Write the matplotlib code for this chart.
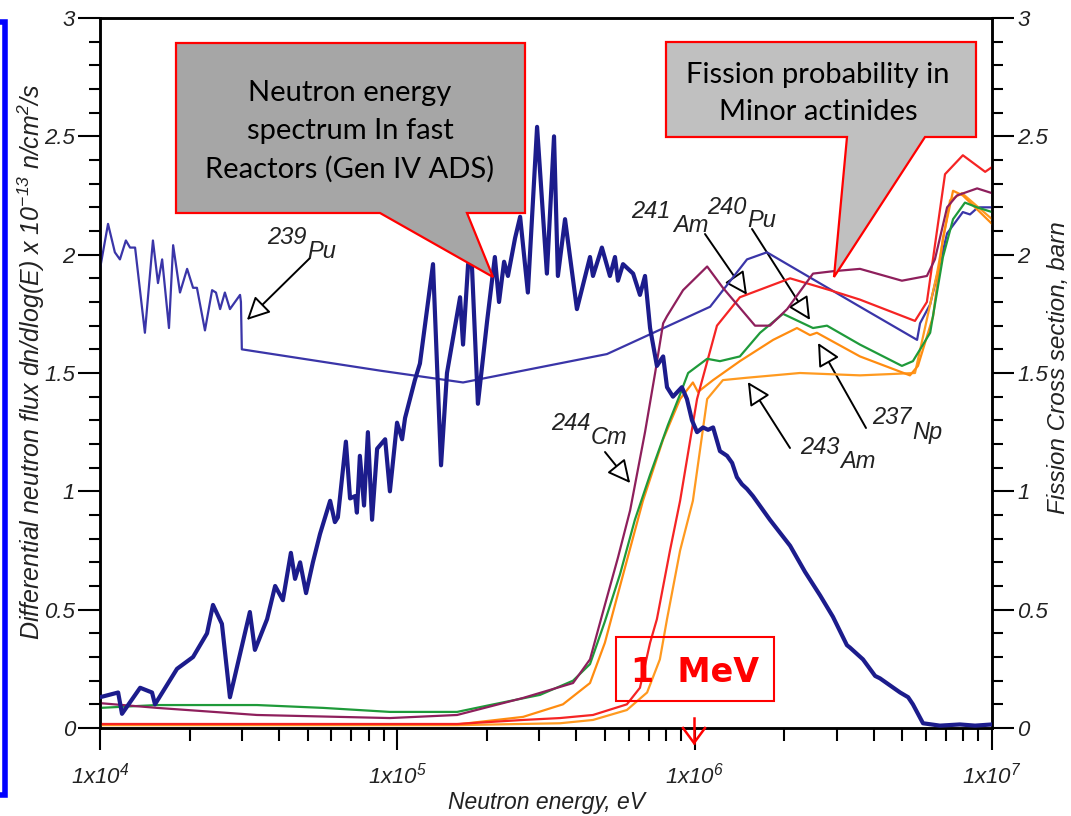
import numpy as np
import matplotlib
matplotlib.use("Agg")
import matplotlib.pyplot as plt
from matplotlib.patches import Polygon, Rectangle
from matplotlib.lines import Line2D
from matplotlib.ticker import FixedLocator, FixedFormatter, NullFormatter

W, H = 1071, 816

plt.rcParams["font.family"] = ["Liberation Sans", "DejaVu Sans"]
plt.rcParams["mathtext.fontset"] = "custom"
plt.rcParams["mathtext.rm"] = "Liberation Sans:italic"
plt.rcParams["mathtext.it"] = "Liberation Sans:italic"
plt.rcParams["mathtext.default"] = "it"

# ---- neutron spectrum (log10 of energy in eV, flux in 1e-13 n/cm2/s) ----
spec_logE = [4.000, 4.061, 4.074, 4.135, 4.175, 4.185, 4.259, 4.313, 4.360, 4.380,
             4.410, 4.437, 4.504, 4.521, 4.562, 4.589, 4.615, 4.642, 4.656, 4.673,
             4.693, 4.716, 4.740, 4.774, 4.790, 4.800, 4.827, 4.841, 4.858, 4.864,
             4.874, 4.888, 4.901, 4.915, 4.932, 4.959, 4.975, 4.999, 5.016, 5.026,
             5.059, 5.076, 5.120, 5.147, 5.167, 5.211, 5.221, 5.238, 5.251, 5.271,
             5.302, 5.328, 5.342, 5.359, 5.372, 5.396, 5.413, 5.439, 5.470, 5.503,
             5.527, 5.540, 5.564, 5.604, 5.648, 5.658, 5.688, 5.715, 5.732, 5.742,
             5.759, 5.793, 5.816, 5.833, 5.850, 5.873, 5.894, 5.907, 5.927, 5.957,
             5.974, 5.991, 6.008, 6.028, 6.045, 6.062, 6.085, 6.109, 6.126, 6.142,
             6.159, 6.176, 6.196, 6.253, 6.321, 6.371, 6.422, 6.465, 6.512, 6.522,
             6.566, 6.607, 6.623, 6.691, 6.718, 6.734, 6.768, 6.825, 6.892, 6.943, 7.000]
spec_flux = [0.13, 0.15, 0.06, 0.17, 0.15, 0.10, 0.25, 0.30, 0.40, 0.52,
             0.44, 0.13, 0.49, 0.33, 0.46, 0.60, 0.54, 0.74, 0.63, 0.70,
             0.57, 0.70, 0.82, 0.96, 0.87, 0.89, 1.21, 0.97, 0.98, 0.91,
             1.15, 0.94, 1.25, 0.88, 1.18, 1.22, 1.00, 1.29, 1.22, 1.31,
             1.47, 1.54, 1.96, 1.11, 1.50, 1.82, 1.62, 1.96, 1.95, 1.37,
             1.72, 1.99, 1.80, 1.97, 1.91, 2.07, 2.16, 1.84, 2.54, 1.92,
             2.50, 1.91, 2.15, 1.77, 1.99, 1.91, 2.03, 1.91, 1.99, 1.89,
             1.96, 1.92, 1.83, 1.91, 1.69, 1.53, 1.57, 1.44, 1.40, 1.44,
             1.39, 1.30, 1.25, 1.27, 1.26, 1.27, 1.17, 1.15, 1.12, 1.06,
             1.03, 1.01, 0.98, 0.88, 0.77, 0.66, 0.56, 0.47, 0.35, 0.34,
             0.29, 0.22, 0.21, 0.15, 0.13, 0.10, 0.02, 0.01, 0.015, 0.01, 0.015]

# ---- fission cross sections (log10 of energy in eV, barn) ----
pu239_logE = [4.000, 4.027, 4.050, 4.067, 4.087, 4.101, 4.118, 4.151, 4.178, 4.195,
              4.209, 4.232, 4.246, 4.269, 4.293, 4.313, 4.326, 4.353, 4.377, 4.390,
              4.404, 4.420, 4.437, 4.471, 4.474, 4.477, 4.942, 5.221, 5.705, 6.052,
              6.176, 6.243, 6.556, 6.748, 6.758, 6.792, 6.849, 6.902, 6.926, 6.953, 7.000]
pu239_xs = [1.94, 2.13, 2.01, 1.98, 2.06, 2.03, 2.03, 1.67, 2.06, 1.88,
            1.98, 1.69, 2.04, 1.84, 1.94, 1.86, 1.86, 1.68, 1.85, 1.84,
            1.77, 1.84, 1.77, 1.83, 1.80, 1.60, 1.51, 1.46, 1.58, 1.78,
            1.98, 2.01, 1.78, 1.64, 1.71, 1.79, 2.09, 2.18, 2.17, 2.20, 2.20]

cm244_logE = [4.000, 4.192, 4.528, 4.975, 5.201, 5.423, 5.591, 5.648, 5.698, 5.742,
              5.783, 5.833, 5.867, 5.894, 5.907, 5.961, 6.042, 6.095, 6.203, 6.253,
              6.311, 6.398, 6.465, 6.556, 6.697, 6.781, 6.808, 6.849, 6.882, 6.950, 7.000]
cm244_xs = [0.105, 0.085, 0.055, 0.042, 0.055, 0.127, 0.19, 0.29, 0.52, 0.72,
            0.92, 1.25, 1.50, 1.71, 1.74, 1.85, 1.95, 1.86, 1.70, 1.70,
            1.77, 1.92, 1.93, 1.94, 1.89, 1.91, 1.98, 2.20, 2.25, 2.28, 2.26]

pu240_logE = [4.000, 4.192, 4.528, 4.750, 4.975, 5.201, 5.312, 5.480, 5.591, 5.648,
              5.698, 5.749, 5.799, 5.850, 5.910, 5.951, 5.978, 6.042, 6.085, 6.152,
              6.220, 6.297, 6.398, 6.445, 6.556, 6.697, 6.734, 6.792, 6.835, 6.869,
              6.909, 6.950, 7.000]
pu240_xs = [0.085, 0.097, 0.097, 0.085, 0.068, 0.068, 0.097, 0.14, 0.20, 0.27,
            0.45, 0.65, 0.88, 1.07, 1.28, 1.41, 1.50, 1.56, 1.55, 1.57,
            1.67, 1.75, 1.69, 1.70, 1.62, 1.53, 1.55, 1.67, 1.99, 2.15,
            2.22, 2.20, 2.18]

np237_logE = [4.000, 5.201, 5.423, 5.557, 5.648, 5.698, 5.749, 5.826, 5.894, 5.951,
              5.994, 6.011, 6.062, 6.152, 6.264, 6.344, 6.388, 6.411, 6.556, 6.724,
              6.751, 6.802, 6.835, 6.869, 6.902, 7.000]
np237_xs = [0.015, 0.015, 0.047, 0.10, 0.19, 0.36, 0.60, 0.96, 1.22, 1.39,
            1.46, 1.42, 1.47, 1.55, 1.64, 1.69, 1.66, 1.67, 1.57, 1.49,
            1.53, 1.74, 2.07, 2.27, 2.25, 2.13]

am241_logE = [4.000, 5.201, 5.423, 5.547, 5.658, 5.772, 5.816, 5.850, 5.873, 5.917,
              5.951, 6.008, 6.075, 6.152, 6.321, 6.455, 6.556, 6.741, 6.781, 6.842,
              6.902, 6.977, 7.000]
am241_xs = [0.017, 0.017, 0.034, 0.042, 0.055, 0.10, 0.17, 0.36, 0.46, 0.75,
            0.96, 1.39, 1.70, 1.82, 1.90, 1.85, 1.81, 1.72, 1.80, 2.34,
            2.42, 2.35, 2.37]

am243_logE = [4.000, 5.201, 5.547, 5.658, 5.772, 5.840, 5.883, 5.907, 5.951, 5.994,
              6.042, 6.095, 6.176, 6.354, 6.556, 6.741, 6.815, 6.859, 6.899, 7.000]
am243_xs = [0.012, 0.012, 0.02, 0.034, 0.076, 0.15, 0.29, 0.46, 0.75, 0.96,
            1.39, 1.47, 1.48, 1.50, 1.49, 1.50, 1.92, 2.23, 2.26, 2.15]

x_ticks = [1e4, 1e5, 1e6, 1e7]
x_tick_labels = [r"1x10$^{4}$", r"1x10$^{5}$", r"1x10$^{6}$", r"1x10$^{7}$"]
y_ticks = [0, 0.5, 1, 1.5, 2, 2.5, 3]
y_tick_labels = ["0", "0.5", "1", "1.5", "2", "2.5", "3"]

NAVY = "#1c1c8c"
PU239_C = "#3a35a8"
CM_C = "#8e1f5c"
GREEN_C = "#1f9a3a"
RED_C = "#f52424"
ORANGE_C = "#ff8c10"
ORANGE2_C = "#ff9a20"
TEXT_C = "#222222"


def fx(px):
    return px / W


def fy(py):
    return 1 - py / H


fig = plt.figure(figsize=(W / 100, H / 100), dpi=100)
fig.patch.set_facecolor("white")
ax = fig.add_axes([fx(100), fy(728), (992 - 100) / W, (728 - 18) / H])
ax2 = ax.twinx()

E = lambda lg: np.power(10.0, np.asarray(lg))

# fission curves (right axis)
ax2.plot(E(pu239_logE), pu239_xs, color=PU239_C, lw=1.6)
ax2.plot(E(am243_logE), am243_xs, color=ORANGE2_C, lw=1.6)
ax2.plot(E(np237_logE), np237_xs, color=ORANGE_C, lw=1.6)
ax2.plot(E(am241_logE), am241_xs, color=RED_C, lw=1.6)
ax2.plot(E(pu240_logE), pu240_xs, color=GREEN_C, lw=1.6)
ax2.plot(E(cm244_logE), cm244_xs, color=CM_C, lw=1.6)
# neutron spectrum (left axis)
ax2.plot(E(spec_logE), spec_flux, color=NAVY, lw=3.0, zorder=5)

for a in (ax, ax2):
    a.set_xscale("log")
    a.set_xlim(1e4, 1e7)
    a.set_ylim(0, 3)
    for s in a.spines.values():
        s.set_linewidth(1.8)

ax.xaxis.set_major_locator(FixedLocator(x_ticks))
ax.xaxis.set_major_formatter(FixedFormatter(x_tick_labels))
minor_x = [m * 10 ** d for d in (4, 5, 6) for m in range(2, 10)]
ax.xaxis.set_minor_locator(FixedLocator(minor_x))
ax.xaxis.set_minor_formatter(NullFormatter())
ax.tick_params(axis="x", which="major", direction="out", length=16, width=1.5,
               pad=9, labelsize=16, labelcolor=TEXT_C)
ax.tick_params(axis="x", which="minor", direction="out", length=9, width=1.5)
ax.tick_params(top=False, labeltop=False)

minor_y = [v / 10 for v in range(31) if v % 5]
for a in (ax, ax2):
    a.yaxis.set_major_locator(FixedLocator(y_ticks))
    a.yaxis.set_major_formatter(FixedFormatter(y_tick_labels))
    a.yaxis.set_minor_locator(FixedLocator(minor_y))
    a.yaxis.set_minor_formatter(NullFormatter())
    a.tick_params(axis="y", which="major", direction="out", length=16, width=1.5,
                  pad=2, labelsize=16, labelcolor=TEXT_C)
    a.tick_params(axis="y", which="minor", direction="out", length=8, width=1.5)

for lab in ax.get_xticklabels() + ax.get_yticklabels() + ax2.get_yticklabels():
    lab.set_fontstyle("italic")

# axis titles
fig.text(fx(31), fy(362), r"Differential neutron flux dn/dlog(E) x 10$^{-13}$ n/cm$^{2}$/s",
         rotation=90, ha="center", va="center", fontsize=18, fontstyle="italic",
         color=TEXT_C)
fig.text(fx(1058), fy(368), "Fission Cross section, barn", rotation=90,
         ha="center", va="center", fontsize=17.5, fontstyle="italic", color=TEXT_C)
fig.text(fx(546), fy(803), "Neutron energy, eV", ha="center", va="center",
         fontsize=16.5, fontstyle="italic", color=TEXT_C)

# isotope labels with pointer arrows
arrow_style = dict(arrowstyle="-|>,head_length=0.7,head_width=0.35", fc="white",
                   ec="black", lw=1.4, shrinkA=0, shrinkB=0, mutation_scale=20)
isotopes = [
    # mass, symbol, mass pos, symbol pos, arrow tail (px), arrow tip (logE, value)
    ("239", "Pu", (267, 237), (307, 251), (310, 258), (4.494, 1.724)),
    ("241", "Am", (631, 212), (673, 226), (705, 234), (6.176, 1.830)),
    ("240", "Pu", (707, 207), (747, 221), (752, 229), (6.388, 1.724)),
    ("244", "Cm", (551, 423), (591, 438), (605, 452), (5.783, 1.035)),
    ("243", "Am", (800, 447), (840, 462), (790, 448), (6.179, 1.462)),
    ("237", "Np", (872, 418), (912, 432), (866, 428), (6.415, 1.627)),
]
for mass, sym, mpos, spos, tail, tip in isotopes:
    fig.text(fx(mpos[0]), fy(mpos[1]), mass, ha="left", va="center", fontsize=17,
             fontstyle="italic", color=TEXT_C)
    fig.text(fx(spos[0]), fy(spos[1]), sym, ha="left", va="center", fontsize=17,
             fontstyle="italic", color=TEXT_C)
    ax.annotate("", xy=(10 ** tip[0], tip[1]), xycoords="data",
                xytext=(tail[0], H - tail[1]), textcoords="figure pixels",
                arrowprops=arrow_style, annotation_clip=False)


def callout(points, face):
    pts = [(fx(x), fy(y)) for x, y in points]
    fig.add_artist(Polygon(pts, closed=True, transform=fig.transFigure,
                           facecolor=face, edgecolor="#ff0000", lw=1.6, zorder=6))


callout([(176, 43), (525, 43), (525, 213), (467, 213), (493, 277), (380, 213),
         (176, 213)], "#a6a6a6")
callout([(666, 42), (976, 42), (976, 137), (925, 137), (834, 277), (847, 137),
         (666, 137)], "#c0c0c0")

box_font = dict(ha="center", va="baseline", fontsize=21, family=["Lato", "DejaVu Sans"],
                color="black", zorder=7)
for text, y in (("Neutron energy", 101), ("spectrum In fast", 139),
                ("Reactors (Gen IV ADS)", 178)):
    fig.text(fx(350), fy(y), text, **box_font)
for text, y in (("Fission probability in", 83), ("Minor actinides", 120)):
    fig.text(fx(818), fy(y), text, **box_font)

# 1 MeV marker
fig.add_artist(Rectangle((fx(616), fy(701)), (774 - 616) / W, (701 - 637) / H,
                         transform=fig.transFigure, fill=False, edgecolor="#ff0000",
                         lw=1.5, zorder=6))
fig.text(fx(695), fy(682), "1  MeV", ha="center", va="baseline", fontsize=24,
         fontweight="bold", family=["DejaVu Sans"], color="#ff0000", zorder=7)
for xs_, ys_ in (((694, 694), (718, 743)), ((683, 694, 705), (728, 743, 728))):
    fig.add_artist(Line2D([fx(v) for v in xs_], [fy(v) for v in ys_],
                          transform=fig.transFigure, color="#ff0000", lw=1.8, zorder=7))

# blue frame edge on the far left
fig.add_artist(Rectangle((fx(-30), fy(795)), 35 / W, (795 - 22) / H,
                         transform=fig.transFigure, fill=False, edgecolor="#0000ff",
                         lw=4, zorder=6))

fig.savefig("out.png", dpi=100, facecolor="white")
